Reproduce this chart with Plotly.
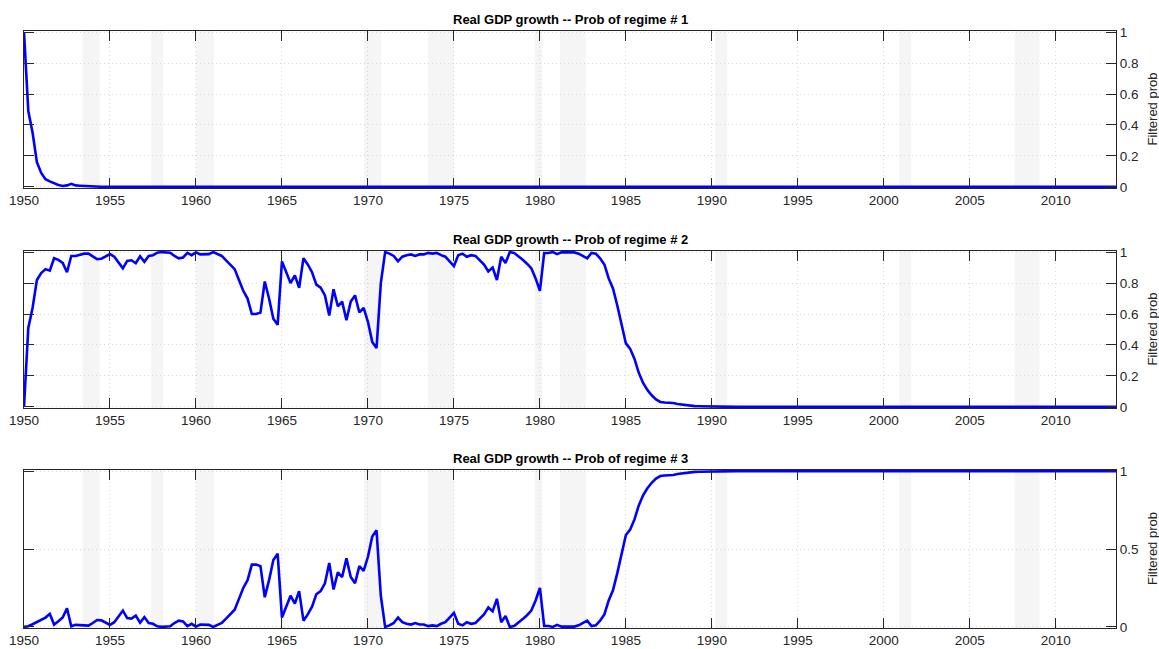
import plotly.graph_objects as go

# Filtered probabilities, quarterly from 1950Q1 to 2013Q3 (one row = one year, 4 quarters)
p1 = [
    1.0, 0.49, 0.35, 0.16,
    0.09, 0.05, 0.036, 0.023,
    0.013, 0.006, 0.01, 0.02,
    0.01, 0.008, 0.006, 0.006,
    0.004, 0.002, 0.001, 0.001,
    # 1955-1959
    0.0, 0.0, 0.0, 0.0, 0.0, 0.0, 0.0, 0.0, 0.0, 0.0, 0.0, 0.0, 0.0, 0.0, 0.0, 0.0, 0.0, 0.0, 0.0, 0.0,
    # 1960-1964
    0.0, 0.0, 0.0, 0.0, 0.0, 0.0, 0.0, 0.0, 0.0, 0.0, 0.0, 0.0, 0.0, 0.0, 0.0, 0.0, 0.0, 0.0, 0.0, 0.0,
    # 1965-1969
    0.0, 0.0, 0.0, 0.0, 0.0, 0.0, 0.0, 0.0, 0.0, 0.0, 0.0, 0.0, 0.0, 0.0, 0.0, 0.0, 0.0, 0.0, 0.0, 0.0,
    # 1970-1974
    0.0, 0.0, 0.0, 0.0, 0.0, 0.0, 0.0, 0.0, 0.0, 0.0, 0.0, 0.0, 0.0, 0.0, 0.0, 0.0, 0.0, 0.0, 0.0, 0.0,
    # 1975-1979
    0.0, 0.0, 0.0, 0.0, 0.0, 0.0, 0.0, 0.0, 0.0, 0.0, 0.0, 0.0, 0.0, 0.0, 0.0, 0.0, 0.0, 0.0, 0.0, 0.0,
    # 1980-1984
    0.0, 0.0, 0.0, 0.0, 0.0, 0.0, 0.0, 0.0, 0.0, 0.0, 0.0, 0.0, 0.0, 0.0, 0.0, 0.0, 0.0, 0.0, 0.0, 0.0,
    # 1985-1989
    0.0, 0.0, 0.0, 0.0, 0.0, 0.0, 0.0, 0.0, 0.0, 0.0, 0.0, 0.0, 0.0, 0.0, 0.0, 0.0, 0.0, 0.0, 0.0, 0.0,
    # 1990-1994
    0.0, 0.0, 0.0, 0.0, 0.0, 0.0, 0.0, 0.0, 0.0, 0.0, 0.0, 0.0, 0.0, 0.0, 0.0, 0.0, 0.0, 0.0, 0.0, 0.0,
    # 1995-1999
    0.0, 0.0, 0.0, 0.0, 0.0, 0.0, 0.0, 0.0, 0.0, 0.0, 0.0, 0.0, 0.0, 0.0, 0.0, 0.0, 0.0, 0.0, 0.0, 0.0,
    # 2000-2004
    0.0, 0.0, 0.0, 0.0, 0.0, 0.0, 0.0, 0.0, 0.0, 0.0, 0.0, 0.0, 0.0, 0.0, 0.0, 0.0, 0.0, 0.0, 0.0, 0.0,
    # 2005-2009
    0.0, 0.0, 0.0, 0.0, 0.0, 0.0, 0.0, 0.0, 0.0, 0.0, 0.0, 0.0, 0.0, 0.0, 0.0, 0.0, 0.0, 0.0, 0.0, 0.0,
    # 2010-2012
    0.0, 0.0, 0.0, 0.0, 0.0, 0.0, 0.0, 0.0, 0.0, 0.0, 0.0, 0.0,
    # 2013
    0.0, 0.0, 0.0,
]

p2 = [
    0.0, 0.51, 0.64, 0.82,          # 1950
    0.865, 0.89, 0.88, 0.96,        # 1951
    0.95, 0.93, 0.87, 0.975,        # 1952
    0.975, 0.985, 0.99, 0.99,       # 1953
    0.975, 0.955, 0.957, 0.97,      # 1954
    0.987, 0.97, 0.933, 0.895,      # 1955
    0.943, 0.947, 0.928, 0.973,     # 1956
    0.937, 0.975, 0.98, 0.996,      # 1957
    1.0, 1.0, 0.996, 0.975,         # 1958
    0.96, 0.965, 0.995, 0.98,       # 1959
    0.998, 0.985, 0.987, 0.987,     # 1960
    1.0, 0.99, 0.975, 0.947,        # 1961
    0.92, 0.89, 0.82, 0.75,         # 1962
    0.70, 0.60, 0.60, 0.61,         # 1963
    0.81, 0.70, 0.57, 0.53,         # 1964
    0.94, 0.87, 0.80, 0.85,         # 1965
    0.77, 0.96, 0.92, 0.87,         # 1966
    0.79, 0.77, 0.72, 0.59,         # 1967
    0.76, 0.65, 0.68, 0.56,         # 1968
    0.68, 0.72, 0.61, 0.64,         # 1969
    0.55, 0.42, 0.38, 0.80,         # 1970
    1.0, 0.99, 0.975, 0.94,         # 1971
    0.97, 0.98, 0.985, 0.975,       # 1972
    0.985, 0.985, 0.995, 0.99,      # 1973
    0.995, 0.98, 0.97, 0.94,        # 1974
    0.91, 0.98, 0.99, 0.97,         # 1975
    0.98, 0.975, 0.95, 0.92,        # 1976
    0.875, 0.90, 0.82, 0.97,        # 1977
    0.93, 1.0, 0.995, 0.975,        # 1978
    0.95, 0.925, 0.895, 0.83,       # 1979
    0.75, 0.994, 0.994, 1.0,        # 1980
    0.987, 0.998, 0.998, 0.998,     # 1981
    0.998, 0.99, 0.975, 0.96,       # 1982
    0.995, 0.99, 0.96, 0.92,        # 1983
    0.83, 0.765, 0.655, 0.54,       # 1984
    0.41, 0.375, 0.31, 0.22,        # 1985
    0.155, 0.11, 0.075, 0.048,      # 1986
    0.032, 0.028, 0.027, 0.025,     # 1987
    0.019, 0.015, 0.011, 0.007,     # 1988
    0.005, 0.004, 0.003, 0.002,     # 1989
    0.001, 0.001, 0.0, 0.0,         # 1990
    # 1991-1995
    0.0, 0.0, 0.0, 0.0, 0.0, 0.0, 0.0, 0.0, 0.0, 0.0, 0.0, 0.0, 0.0, 0.0, 0.0, 0.0, 0.0, 0.0, 0.0, 0.0,
    # 1996-2000
    0.0, 0.0, 0.0, 0.0, 0.0, 0.0, 0.0, 0.0, 0.0, 0.0, 0.0, 0.0, 0.0, 0.0, 0.0, 0.0, 0.0, 0.0, 0.0, 0.0,
    # 2001-2005
    0.0, 0.0, 0.0, 0.0, 0.0, 0.0, 0.0, 0.0, 0.0, 0.0, 0.0, 0.0, 0.0, 0.0, 0.0, 0.0, 0.0, 0.0, 0.0, 0.0,
    # 2006-2010
    0.0, 0.0, 0.0, 0.0, 0.0, 0.0, 0.0, 0.0, 0.0, 0.0, 0.0, 0.0, 0.0, 0.0, 0.0, 0.0, 0.0, 0.0, 0.0, 0.0,
    # 2011-2012
    0.0, 0.0, 0.0, 0.0, 0.0, 0.0, 0.0, 0.0,
    # 2013
    0.0, 0.0, 0.0,
]

p3 = [
    0.0, 0.004, 0.017, 0.03,        # 1950
    0.046, 0.06, 0.084, 0.015,      # 1951
    0.036, 0.06, 0.12, 0.004,       # 1952
    0.013, 0.01, 0.008, 0.008,      # 1953
    0.025, 0.044, 0.042, 0.03,      # 1954
    0.013, 0.03, 0.067, 0.105,      # 1955
    0.057, 0.053, 0.072, 0.027,     # 1956
    0.063, 0.025, 0.02, 0.004,      # 1957
    0.0, 0.0, 0.004, 0.025,         # 1958
    0.04, 0.035, 0.005, 0.02,       # 1959
    0.002, 0.015, 0.013, 0.013,     # 1960
    0.0, 0.01, 0.025, 0.053,        # 1961
    0.08, 0.11, 0.18, 0.25,         # 1962
    0.30, 0.40, 0.40, 0.39,         # 1963
    0.19, 0.30, 0.43, 0.47,         # 1964
    0.06, 0.13, 0.20, 0.15,         # 1965
    0.23, 0.04, 0.08, 0.13,         # 1966
    0.21, 0.23, 0.28, 0.41,         # 1967
    0.24, 0.35, 0.32, 0.44,         # 1968
    0.32, 0.28, 0.39, 0.36,         # 1969
    0.45, 0.58, 0.62, 0.20,         # 1970
    0.0, 0.01, 0.025, 0.06,         # 1971
    0.03, 0.02, 0.015, 0.025,       # 1972
    0.015, 0.015, 0.005, 0.01,      # 1973
    0.005, 0.02, 0.03, 0.06,        # 1974
    0.09, 0.02, 0.01, 0.03,         # 1975
    0.02, 0.025, 0.05, 0.08,        # 1976
    0.125, 0.10, 0.18, 0.03,        # 1977
    0.07, 0.0, 0.005, 0.025,        # 1978
    0.05, 0.075, 0.105, 0.17,       # 1979
    0.25, 0.006, 0.006, 0.0,        # 1980
    0.013, 0.002, 0.002, 0.002,     # 1981
    0.002, 0.01, 0.025, 0.04,       # 1982
    0.005, 0.01, 0.04, 0.08,        # 1983
    0.17, 0.235, 0.345, 0.46,       # 1984
    0.59, 0.625, 0.69, 0.78,        # 1985
    0.845, 0.89, 0.925, 0.952,      # 1986
    0.968, 0.972, 0.973, 0.975,     # 1987
    0.981, 0.985, 0.989, 0.993,     # 1988
    0.995, 0.996, 0.997, 0.998,     # 1989
    0.999, 0.999, 1.0, 1.0,         # 1990
    # 1991-1995
    1.0, 1.0, 1.0, 1.0, 1.0, 1.0, 1.0, 1.0, 1.0, 1.0, 1.0, 1.0, 1.0, 1.0, 1.0, 1.0, 1.0, 1.0, 1.0, 1.0,
    # 1996-2000
    1.0, 1.0, 1.0, 1.0, 1.0, 1.0, 1.0, 1.0, 1.0, 1.0, 1.0, 1.0, 1.0, 1.0, 1.0, 1.0, 1.0, 1.0, 1.0, 1.0,
    # 2001-2005
    1.0, 1.0, 1.0, 1.0, 1.0, 1.0, 1.0, 1.0, 1.0, 1.0, 1.0, 1.0, 1.0, 1.0, 1.0, 1.0, 1.0, 1.0, 1.0, 1.0,
    # 2006-2010
    1.0, 1.0, 1.0, 1.0, 1.0, 1.0, 1.0, 1.0, 1.0, 1.0, 1.0, 1.0, 1.0, 1.0, 1.0, 1.0, 1.0, 1.0, 1.0, 1.0,
    # 2011-2012
    1.0, 1.0, 1.0, 1.0, 1.0, 1.0, 1.0, 1.0,
    # 2013
    1.0, 1.0, 1.0,
]

assert len(p1) == len(p2) == len(p3) == 255, (len(p1), len(p2), len(p3))

# quarterly time axis
dates = [1950 + q / 4 for q in range(len(p2))]

# recession shading (NBER-type bands)
rec_start = [1953.4, 1957.4, 1960.0, 1969.78, 1973.5, 1979.7, 1981.17, 1990.2, 2000.9, 2007.6]
rec_end = [1954.4, 1958.1, 1961.05, 1970.77, 1975.0, 1980.15, 1982.67, 1990.9, 2001.6, 2009.05]

titles = ["Real GDP growth -- Prob of regime # 1",
          "Real GDP growth -- Prob of regime # 2",
          "Real GDP growth -- Prob of regime # 3"]
y_label = "Filtered prob"
y_ticks = [[0, 0.2, 0.4, 0.6, 0.8, 1], [0, 0.2, 0.4, 0.6, 0.8, 1], [0, 0.5, 1]]
y_ticktext = [["0", "0.2", "0.4", "0.6", "0.8", "1"], ["0", "0.2", "0.4", "0.6", "0.8", "1"], ["0", "0.5", "1"]]
x_ticks = [1950, 1955, 1960, 1965, 1970, 1975, 1980, 1985, 1990, 1995, 2000, 2005, 2010]

series = [p1, p2, p3]
domains = [[1 - 188 / 649, 1 - 31 / 649], [1 - 408 / 649, 1 - 251 / 649], [1 - 628 / 649, 1 - 470 / 649]]

FONT = "Liberation Sans, Arial, Helvetica, sans-serif"
AX = "#262626"
GRID = "#d9d9d9"

fig = go.Figure()
layout = dict(
    width=1159, height=649,
    margin=dict(l=24, r=43, t=0, b=0),
    paper_bgcolor="white", plot_bgcolor="white",
    font=dict(family=FONT, size=13, color=AX),
    showlegend=False,
    annotations=[],
    shapes=[],
)

for i in range(3):
    xn = "x" if i == 0 else f"x{i + 1}"
    yn = "y" if i == 0 else f"y{i + 1}"
    fig.add_trace(go.Scatter(x=dates, y=series[i], mode="lines",
                             line=dict(color="#0000ff", width=2.6),
                             xaxis=xn, yaxis=yn, hoverinfo="skip"))
    for s, e in zip(rec_start, rec_end):
        layout["shapes"].append(dict(type="rect", xref=xn, yref=f"{yn} domain",
                                     x0=s, x1=e, y0=0, y1=1,
                                     fillcolor="#f5f5f5", line=dict(width=0),
                                     layer="below"))
    xkey = "xaxis" if i == 0 else f"xaxis{i + 1}"
    ykey = "yaxis" if i == 0 else f"yaxis{i + 1}"
    layout[xkey] = dict(
        domain=[0, 1], anchor=yn, range=[1950, 2013.5],
        tickvals=x_ticks, ticktext=[str(v) for v in x_ticks],
        ticks="inside", ticklen=10, tickwidth=1, tickcolor=AX,
        showline=True, linecolor=AX, linewidth=1, mirror="ticks",
        showgrid=True, gridcolor=GRID, griddash="1px,3px", gridwidth=1,
        zeroline=False, tickfont=dict(size=13.5, color=AX, family=FONT),
        automargin=False,
    )
    layout[ykey] = dict(
        domain=domains[i], anchor=xn, side="right",
        range=[-0.007, 1.007],
        tickvals=y_ticks[i], ticktext=y_ticktext[i],
        ticks="inside", ticklen=10, tickwidth=1, tickcolor=AX,
        showline=True, linecolor=AX, linewidth=1, mirror="ticks",
        showgrid=True, gridcolor=GRID, griddash="1px,3px", gridwidth=1,
        zeroline=False, tickfont=dict(size=13.5, color=AX, family=FONT),
        automargin=False,
    )
    layout["annotations"].append(dict(
        text=f"<b>{titles[i]}</b>", xref=f"{xn} domain", yref=f"{yn} domain",
        x=0.5, y=1, xanchor="center", yanchor="bottom", yshift=2,
        showarrow=False, font=dict(size=13, color="black", family=FONT),
    ))
    layout["annotations"].append(dict(
        text=y_label, xref="paper", yref=f"{yn} domain",
        x=1, y=0.5, xanchor="center", yanchor="middle", xshift=36,
        textangle=-90, showarrow=False,
        font=dict(size=13, color=AX, family=FONT),
    ))

fig.update_layout(**layout)
fig.write_html("out.html", config={"displayModeBar": False},
               post_script="document.body.style.margin='0';document.body.style.overflow='hidden';")
